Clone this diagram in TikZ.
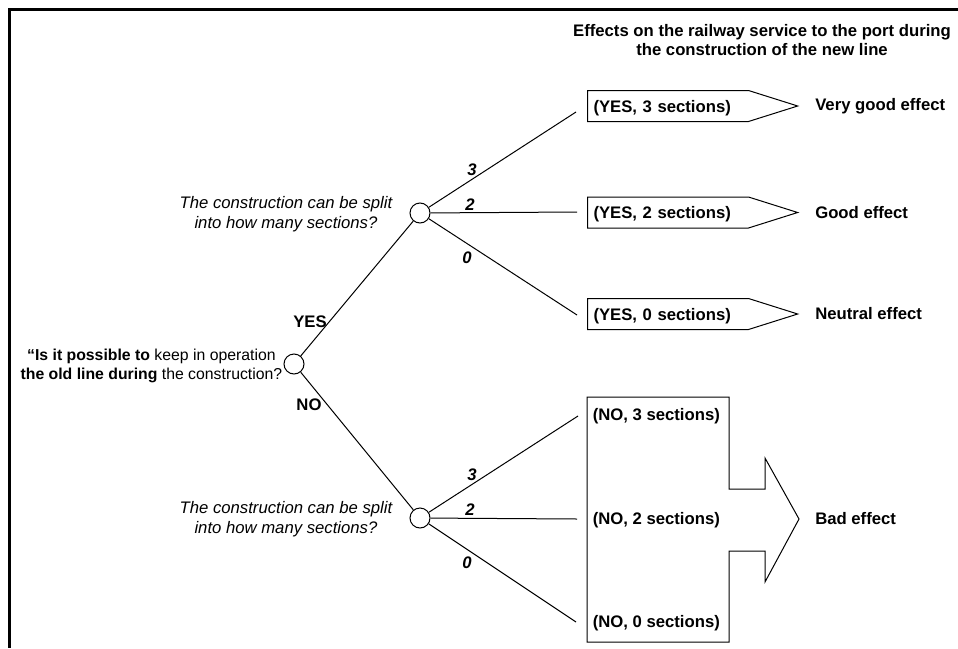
\documentclass[tikz,border=0pt]{standalone}
\usepackage{fontspec}
\setmainfont{Liberation Sans}
\usetikzlibrary{shapes.symbols}
\begin{document}
\fontsize{16.7}{19.5}\selectfont
\begin{tikzpicture}[x=1pt, y=-1pt,
    choice/.style={circle, draw, line width=1pt, minimum size=20pt, inner sep=0pt},
    branch/.style={line width=1pt},
    outcome/.style={signal, signal to=east, signal from=nowhere, signal pointer angle=35,
        draw, line width=1pt, font=\bfseries, text width=149pt, align=left,
        text height=14pt, text depth=2pt,
        inner xsep=6pt, inner ysep=0pt, minimum height=31pt},
    effect/.style={font=\bfseries, anchor=west}]
    \useasboundingbox (0,0) rectangle (958,648);
    % Frame
    \draw[line width=2.7pt] (958,9.7) -- (9.7,9.7) -- (9.7,648);
    \node[font=\bfseries, align=center] (title) at (762,40) {Effects on the railway service to the port during\\the construction of the new line};

    % Decision points
    \node[choice] (root) at (294,364) {};
    \node[choice] (upper) at (420,213) {};
    \node[choice] (lower) at (420,518) {};
    \node[anchor=east, align=center, font=\fontsize{15.8}{19.5}\selectfont] (rootq) at (288,366) {\textbf{“Is it possible to} keep in operation\\\textbf{the old line during} the construction?};
    \node[anchor=east, align=center, font=\itshape] (upperq) at (398,214) {The construction can be split\\into how many sections?};
    \node[anchor=east, align=center, font=\itshape] (lowerq) at (398,519) {The construction can be split\\into how many sections?};
    \node[font=\bfseries] (yes) at (310,322) {YES};
    \node[font=\bfseries] (no) at (309,405) {NO};
    \draw[branch] (root) -- (upper);
    \draw[branch] (root) -- (lower);

    % Branches
    \coordinate (y3end) at (576,112);
    \coordinate (y2end) at (577,212);
    \coordinate (y0end) at (577,315);
    \coordinate (n3end) at (578,416);
    \coordinate (n2end) at (577,519);
    \coordinate (n0end) at (576,622);
    \foreach \side/\tag in {upper/y, lower/n} {
        \draw[branch] (\side) -- (\tag3end);
        \draw[branch] (\side) -- (\tag2end);
        \draw[branch] (\side) -- (\tag0end);
    }
    \foreach \side in {upper, lower} {
        \node[font=\bfseries\itshape] (\side three) at ([shift={(52,-43)}]\side) {3};
        \node[font=\bfseries\itshape] (\side two) at ([shift={(50,-8)}]\side) {2};
        \node[font=\bfseries\itshape] (\side zero) at ([shift={(47,45)}]\side) {0};
    }

    % Outcomes with the YES answer
    \node[outcome, anchor=west] (y3) at (587,106) {(YES, 3 sections)};
    \node[outcome, anchor=west] (y2) at (587,212.5) {(YES, 2 sections)};
    \node[outcome, anchor=west] (y0) at (587,314) {(YES, 0 sections)};
    \node[effect] (vgood) at (809.5,106) {Very good effect};
    \node[effect] (good) at (809.5,212.5) {Good effect};
    \node[effect] (neutral) at (809.5,314) {Neutral effect};

    % Outcomes with the NO answer
    \draw[line width=1pt] (587,397) -| (729,489) -| (765,458) -- (799,519) -- (765,582) |- (729,551) |- (587,642) -- cycle;
    \node[effect] (n3) at (587,416) {(NO, 3 sections)};
    \node[effect] (n2) at (587,520) {(NO, 2 sections)};
    \node[effect] (n0) at (587,623) {(NO, 0 sections)};
    \node[effect] (bad) at (809.5,519) {Bad effect};
\end{tikzpicture}
\end{document}
